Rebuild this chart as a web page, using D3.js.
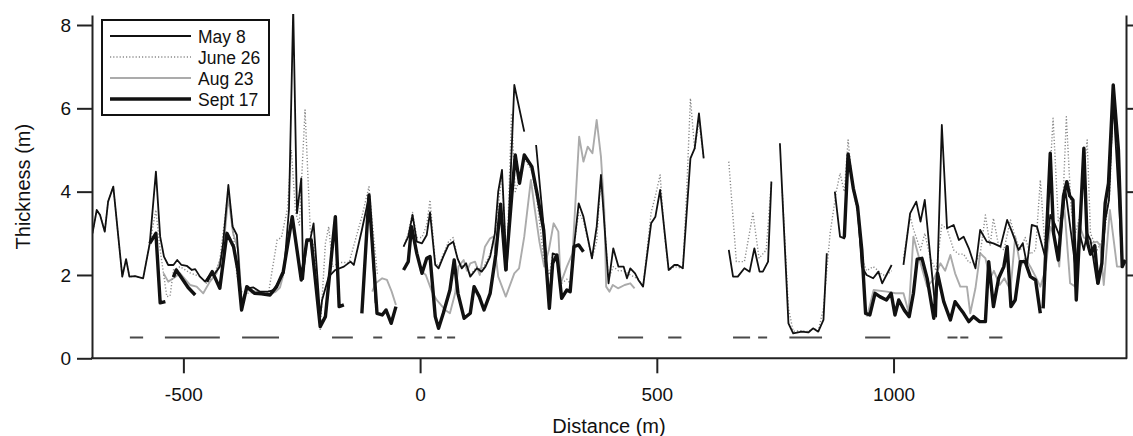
<!DOCTYPE html>
<html>
<head>
<meta charset="utf-8">
<script src="https://cdn.jsdelivr.net/npm/d3@7"></script>
<style>
  body { margin: 0; background: #fff; }
  svg { display: block; font-family: "Liberation Sans", Arial, sans-serif; }
</style>
</head>
<body>
<svg id="chart" width="1133" height="436"></svg>
<script>
// ice thickness along the transect, four surveys (null = gap in the line)
const may8Dist = [-692, -683, -676, -666, -659, -648, -629, -621, -614, -602, -585, -571, -558, -549, -541, -532, -521, -513, -504, -493, -482, -475, -465, -454, -444, -433, -423, -416, -405, -396, -387, -377, -366, -352, -338, -320, -309, -299, -288, -277, -268, -260, -251, -247, -240, -232, -225, -211, -207, -193, -179, -161, -147, -140, -123, -108, -101, -94, null,
  -35, -25, -16, -7, 4, 14, 21, 32, 39, 49, 60, 70, 79, 88, 97, 106, 120, 130, 138, 148, 158, 165, 173, 183, 199, 220, null,
  245, 261, 273, 280, 289, 299, 310, 317, 325, 335, 345, 363, 373, 382, 398, 408, 419, 430, 437, 444, 454, 461, 471, 488, 497, 507, 525, 537, 544, 555, 571, 580, 589, 599, null,
  652, 661, 671, 685, 696, 706, 717, 724, 735, 742, null,
  760, 778, 788, 806, 820, 830, 841, 852, 859, null,
  876, 887, 896, 904, 915, 924, 933, 943, 957, 968, 976, 985, 996, null,
  1021, 1035, 1048, 1057, 1066, 1078, 1090, 1102, 1113, 1127, 1138, 1148, 1159, 1173, 1183, 1197, 1211, 1226, 1240, 1250, 1264, 1273, 1282, 1292, 1303, 1321, 1331, 1340, 1352, 1363, 1375, 1384, 1393, 1402, 1409, 1416, 1430, 1440, 1447, 1455, 1464, 1475, 1483, 1490];
const may8Thick = [3.0, 3.56, 3.44, 3.04, 3.76, 4.12, 1.96, 2.38, 1.96, 1.97, 1.92, 2.76, 4.48, 2.92, 2.44, 2.24, 2.24, 2.36, 2.24, 2.22, 2.12, 2.14, 1.96, 1.84, 2.0, 2.04, 2.2, 2.76, 4.16, 3.16, 2.96, 1.3, 1.68, 1.70, 1.60, 1.60, 1.64, 1.84, 2.04, 3.56, 8.4, 3.48, 4.32, 1.9, 2.8, 2.85, 3.24, 1.0, 1.4, 1.96, 2.12, 2.2, 2.32, 2.24, 3.08, 3.88, 2.76, 1.32, null,
  2.68, 2.92, 3.44, 2.80, 2.76, 2.96, 3.5, 2.24, 2.16, 2.44, 2.72, 2.80, 2.40, 2.16, 2.28, 1.96, 2.16, 2.08, 2.2, 2.44, 3.0, 4.0, 4.52, 2.12, 6.56, 5.44, null,
  5.12, 3.16, 1.2, 2.52, 2.48, 1.44, 1.64, 1.60, 2.68, 3.72, 3.40, 2.40, 3.16, 4.40, 1.80, 2.64, 2.20, 2.20, 1.92, 2.16, 2.04, 1.88, 1.72, 3.24, 3.40, 4.04, 2.12, 2.24, 2.24, 2.16, 4.80, 5.04, 5.88, 4.80, null,
  2.60, 1.96, 1.96, 2.16, 2.08, 2.64, 2.08, 2.08, 2.32, 4.24, null,
  5.16, 0.84, 0.60, 0.64, 0.62, 0.72, 0.64, 0.92, 2.52, null,
  4.0, 2.92, 2.88, 4.92, 4.08, 3.64, 2.20, 2.0, 1.92, 2.08, 1.80, 2.0, 2.24, null,
  2.24, 3.48, 3.76, 3.28, 3.80, 2.4, 1.0, 5.60, 3.12, 3.2, 2.84, 2.92, 2.64, 2.16, 3.08, 2.80, 2.76, 2.68, 3.32, 3.04, 2.60, 2.76, 2.24, 3.20, 3.16, 2.40, 3.44, 3.24, 2.9, 4.04, 3.0, 2.2, 3.0, 2.6, 3.0, 2.84, 1.80, 2.28, 3.3, 3.8, 6.2, 4.0, 2.3, 2.3];

const jun26Dist = [-692, -683, -676, -666, -659, -648, -629, -621, -614, -602, -585, -571, -558, -549, -535, -528, -521, -507, -486, -465, -451, -437, -423, -405, -396, -387, -377, -366, -338, -320, -302, -293, -280, -272, -263, -255, -243, -232, -222, -211, -200, -193, -185, -170, -150, -123, -108, -98, -90, null,
  -35, -25, -16, -7, 4, 14, 21, 32, 39, 49, 60, 70, 79, 88, 97, 106, 120, 130, 148, 158, 173, 183, 193, 201, 210, 220, 236, 247, 261, 273, 280, 289, 299, 310, 317, 325, 335, 345, 363, 373, 382, 398, 408, 419, 430, 444, 461, 471, 488, 497, 507, 516, 525, 537, 555, 563, 571, 580, 589, 599, null,
  652, 668, 685, 703, 716, 731, 742, null,
  765, 778, 788, 806, 820, 830, 841, 852, 866, 879, 887, 896, 904, 915, 924, 933, 943, 957, 968, 976, 985, 996, null,
  1021, 1035, 1042, 1057, 1066, 1078, 1090, 1102, 1113, 1127, 1138, 1148, 1159, 1173, 1183, 1194, 1204, 1211, 1222, 1233, 1247, 1257, 1268, 1278, 1289, 1300, 1310, 1321, 1337, 1348, 1357, 1365, 1375, 1384, 1393, 1409, 1416, 1430, 1444, 1457, 1464, 1475, 1483, 1490];
const jun26Thick = [3.0, 3.56, 3.44, 3.04, 3.76, 4.12, 1.96, 2.38, 1.96, 1.97, 1.92, 2.76, 3.56, 2.6, 1.48, 1.5, 2.12, 2.2, 2.05, 1.96, 1.80, 1.95, 2.36, 4.04, 3.2, 2.0, 1.6, 1.56, 1.6, 1.58, 2.84, 2.9, 3.6, 5.0, 3.5, 3.2, 5.96, 3.08, 2.5, 0.68, 2.76, 3.16, 2.2, 2.3, 2.3, 3.40, 4.12, 2.92, 2.0, null,
  2.68, 3.0, 3.5, 2.9, 2.9, 3.2, 3.80, 2.3, 2.2, 2.5, 2.8, 2.9, 2.4, 2.2, 2.3, 2.0, 2.2, 2.1, 2.5, 3.0, 4.4, 2.2, 5.88, 4.0, 4.3, 4.8, 4.5, 3.8, 2.4, 2.0, 2.5, 2.4, 1.8, 1.9, 1.8, 2.7, 3.5, 3.3, 2.4, 2.8, 4.4, 1.9, 2.2, 2.1, 2.1, 2.0, 1.9, 1.72, 3.5, 3.9, 4.4, 3.0, 2.1, 2.2, 2.16, 4.0, 6.24, 5.0, 5.7, 4.8, null,
  4.72, 2.32, 2.32, 3.48, 2.40, 2.60, 4.24, null,
  4.0, 1.2, 0.65, 0.66, 0.64, 0.72, 0.66, 1.2, 3.0, 4.0, 4.44, 4.0, 5.24, 4.0, 3.5, 2.4, 2.1, 2.2, 2.1, 2.0, 2.0, 2.1, null,
  2.4, 3.4, 3.1, 2.6, 3.0, 2.4, 2.1, 3.2, 3.1, 2.6, 2.5, 2.5, 2.3, 2.3, 2.5, 3.44, 2.7, 3.36, 2.7, 2.6, 3.32, 2.9, 2.6, 2.9, 2.5, 2.6, 4.28, 2.5, 5.76, 3.3, 3.5, 5.80, 3.6, 3.0, 3.4, 5.24, 3.0, 2.6, 2.9, 4.0, 6.3, 4.6, 2.3, 2.3];

const aug23Dist = [-542, -532, -521, -507, -486, -472, -458, -444, -430, -416, -405, -395, -384, -377, -366, -345, -320, -305, -296, -289, null,
  -101, -94, -80, -70, -60, -51, null,
  0, 12, 25, 35, 53, 63, 74, 81, 92, 99, 106, 116, 126, 137, 148, 155, 165, 181, 199, 209, 220, 234, 242, 252, 262, 272, 282, 292, 297, 310, 322, 336, 345, 354, 364, 373, 382, 389, 393, 400, 407, 418, 432, 444, 453, null,
  944, 958, 986, 1004, 1021, 1032, 1042, 1057, 1071, 1085, 1099, 1109, 1120, 1130, 1141, 1155, 1162, 1173, 1183, 1194, 1204, 1212, 1224, 1234, 1247, 1257, 1268, 1278, 1289, 1300, 1310, 1321, 1331, 1340, 1350, 1359, 1373, 1384, 1391, 1402, 1416, 1430, 1437, 1444, 1457, 1472, 1480];
const aug23Thick = [2.04, 1.84, 1.92, 2.04, 1.76, 1.72, 1.56, 1.84, 2.04, 2.60, 3.88, 3.0, 2.6, 1.40, 1.64, 1.60, 1.52, 1.6, 1.7, 2.0, null,
  1.6, 1.80, 1.92, 1.88, 1.6, 1.28, null,
  2.12, 2.0, 1.6, 1.40, 1.16, 1.08, 1.56, 2.20, 2.36, 2.1, 2.28, 2.32, 2.0, 2.68, 2.88, 2.92, 1.96, 1.48, 2.04, 2.16, 2.92, 4.28, 3.6, 2.8, 2.2, 2.6, 3.24, 3.04, 1.80, 2.2, 2.52, 5.32, 4.72, 5.08, 4.92, 5.72, 4.84, 3.56, 1.72, 1.60, 1.76, 1.68, 1.76, 1.80, 1.68, null,
  1.0, 1.64, 1.60, 1.56, 1.56, 1.1, 2.92, 2.28, 1.72, 1.9, 2.28, 2.1, 2.48, 2.04, 1.72, 1.72, 1.08, 1.68, 2.52, 2.40, 1.92, 2.1, 1.76, 1.92, 1.64, 2.92, 2.2, 2.40, 2.2, 1.96, 1.72, 2.12, 3.16, 2.92, 2.2, 3.88, 1.80, 1.72, 3.24, 2.9, 2.76, 2.8, 2.7, 1.76, 3.56, 2.20, 2.20];

const sep17Dist = [-571, -558, -549, -538, null,
  -521, -515, -505, -490, -475, null,
  -451, -439, -423, -408, -394, -385, -377, -366, -350, -335, -317, -303, -289, -270, -251, -239, -230, -211, -200, -179, -171, -161, null,
  -123, -108, -91, -80, -72, -61, -51, null,
  -35, -25, -18, -7, 4, 14, 21, 32, 39, 49, 63, 72, 80, 93, 106, 114, 125, 135, 148, 160, 170, 181, 194, 201, 210, 220, 236, 247, 261, 273, 280, 289, 299, 310, 317, 325, 335, 345, null,
  896, 904, 915, 924, 933, 941, 950, 961, 971, 985, 995, 1003, 1011, 1023, 1033, 1042, 1050, 1060, 1071, 1085, 1093, 1106, 1120, 1130, 1140, 1148, 1159, 1169, 1182, 1194, 1201, 1211, 1222, 1233, 1240, 1248, 1257, 1268, 1278, 1289, 1300, 1310, null,
  1316, 1331, 1338, 1348, 1359, 1366, 1372, 1379, 1386, 1402, 1409, 1416, 1425, 1432, 1440, 1447, 1454, 1464, 1475, 1483, 1490];
const sep17Thick = [2.76, 3.0, 1.33, 1.36, null,
  1.95, 2.12, 1.95, 1.7, 1.52, null,
  1.84, 2.08, 1.68, 3.0, 2.68, 2.12, 1.16, 1.72, 1.56, 1.55, 1.52, 1.72, 2.08, 3.40, 1.88, 2.84, 2.84, 0.76, 1.0, 3.40, 1.24, 1.28, null,
  1.08, 3.92, 1.08, 1.04, 1.16, 0.84, 1.24, null,
  2.12, 2.32, 3.16, 2.52, 2.04, 2.40, 2.44, 1.0, 0.72, 1.08, 1.64, 2.36, 1.56, 0.96, 1.08, 1.72, 1.48, 1.16, 1.56, 2.5, 3.7, 2.12, 3.96, 4.88, 4.20, 4.88, 4.60, 3.96, 3.08, 1.20, 2.28, 2.48, 1.44, 1.64, 1.60, 2.68, 2.72, 2.56, null,
  2.9, 4.9, 4.08, 3.64, 2.6, 1.08, 1.04, 1.56, 1.48, 1.40, 1.56, 1.04, 1.40, 1.15, 1.0, 1.56, 2.38, 2.40, 1.92, 0.96, 2.04, 1.36, 0.92, 1.36, 1.2, 1.08, 0.88, 1.0, 0.88, 0.88, 2.32, 1.24, 1.92, 2.20, 2.68, 1.24, 1.40, 2.32, 2.32, 1.96, 1.88, 1.08, null,
  1.2, 4.92, 3.0, 2.36, 3.9, 4.24, 3.9, 3.8, 1.4, 5.04, 2.8, 2.5, 2.7, 1.8, 2.28, 3.72, 4.2, 6.56, 5.0, 2.2, 2.36];

// stretches marked at 0.5 m along the bottom
const coverStart = [-613, -539, -376, -186, -99, -6, 30, 57, 418, 524, 661, 714, 780, 940, 1114, 1141, 1202];
const coverEnd = [-585, -423, -298, -142, -80, 11, 46, 74, 471, 552, 697, 733, 849, 993, 1135, 1158, 1230];
const coverLevel = 0.5;

const xTicks = [-500, 0, 500, 1000];
const yTicks = [0, 2, 4, 6, 8];
const seriesNames = ['May 8', 'June 26', 'Aug 23', 'Sept 17'];

const svg = d3.select('#chart');
const plotLeft = 92, plotRight = 1126, plotTop = 15, plotBottom = 358.3;

const x = d3.scaleLinear().domain([-693, 1491]).range([plotLeft, plotRight]);
const y = d3.scaleLinear().domain([0, 8.24]).range([plotBottom, plotTop]);

svg.append('defs').append('clipPath').attr('id', 'plotclip')
    .append('rect')
    .attr('x', plotLeft).attr('y', plotTop - 1)
    .attr('width', plotRight - plotLeft).attr('height', plotBottom - plotTop + 1);

function zip(dist, thick) {
    return dist.map((d, i) => [d, thick[i]]);
}

const line = d3.line()
    .defined(d => d[0] != null && d[1] != null)
    .x(d => x(d[0]))
    .y(d => y(d[1]));

const styles = [
    {name: seriesNames[0], stroke: '#111', width: 1.8, dash: null},
    {name: seriesNames[1], stroke: '#8a8a8a', width: 1.4, dash: '1.2,2'},
    {name: seriesNames[2], stroke: '#ababab', width: 1.9, dash: null},
    {name: seriesNames[3], stroke: '#111', width: 3.4, dash: null}
];

const series = [
    {data: zip(aug23Dist, aug23Thick), style: styles[2]},
    {data: zip(jun26Dist, jun26Thick), style: styles[1]},
    {data: zip(may8Dist, may8Thick), style: styles[0]},
    {data: zip(sep17Dist, sep17Thick), style: styles[3]}
];

const plot = svg.append('g').attr('clip-path', 'url(#plotclip)');

// bottom marks
plot.selectAll('line.cover')
    .data(coverStart.map((s, i) => [s, coverEnd[i]]))
    .join('line')
    .attr('class', 'cover')
    .attr('x1', d => x(d[0])).attr('x2', d => x(d[1]))
    .attr('y1', y(coverLevel)).attr('y2', y(coverLevel))
    .attr('stroke', '#4a4a4a')
    .attr('stroke-width', 2);

plot.selectAll('path.series')
    .data(series)
    .join('path')
    .attr('class', 'series')
    .attr('fill', 'none')
    .attr('stroke', d => d.style.stroke)
    .attr('stroke-width', d => d.style.width)
    .attr('stroke-dasharray', d => d.style.dash)
    .attr('stroke-linejoin', 'round')
    .attr('d', d => line(d.data));

// axes
const axisColor = '#222';
const plainNumber = d => String(d);

const xAxis = svg.append('g')
    .attr('transform', `translate(0,${plotBottom})`)
    .call(d3.axisBottom(x).tickValues(xTicks).tickFormat(plainNumber)
        .tickSize(15).tickSizeOuter(0).tickPadding(14));

const yAxis = svg.append('g')
    .attr('transform', `translate(${plotLeft},0)`)
    .call(d3.axisLeft(y).tickValues(yTicks).tickFormat(plainNumber)
        .tickSize(15).tickSizeOuter(0).tickPadding(6));

const yAxisRight = svg.append('g')
    .attr('transform', `translate(${plotRight},0)`)
    .call(d3.axisRight(y).tickValues(yTicks.slice(1)).tickSize(8).tickSizeOuter(0).tickFormat(''));

[xAxis, yAxis, yAxisRight].forEach(g => {
    g.select('.domain').attr('stroke', axisColor).attr('stroke-width', 2);
    g.selectAll('.tick line').attr('stroke', axisColor).attr('stroke-width', 2);
    g.selectAll('.tick text')
        .attr('fill', '#111')
        .style('font-family', '"Liberation Sans", Arial, sans-serif')
        .style('font-size', '19px');
});

// bottom axis line runs the full width
xAxis.select('.domain').attr('d', `M${plotLeft - 1},0H${plotRight + 1}`);

// axis titles
svg.append('text')
    .attr('x', (plotLeft + plotRight) / 2)
    .attr('y', 432.5)
    .attr('text-anchor', 'middle')
    .attr('fill', '#111')
    .style('font-size', '20px')
    .text('Distance (m)');

svg.append('text')
    .attr('transform', `translate(30,${(plotTop + plotBottom) / 2}) rotate(-90)`)
    .attr('text-anchor', 'middle')
    .attr('fill', '#111')
    .style('font-size', '20px')
    .text('Thickness (m)');

// legend
const legend = svg.append('g');
legend.append('rect')
    .attr('x', 102).attr('y', 20)
    .attr('width', 167).attr('height', 95)
    .attr('fill', '#fff')
    .attr('stroke', '#111')
    .attr('stroke-width', 2);

const rowY = [36, 57, 78, 99];
const rows = legend.selectAll('g.row')
    .data(styles)
    .join('g')
    .attr('class', 'row')
    .attr('transform', (d, i) => `translate(0,${rowY[i]})`);

rows.append('line')
    .attr('x1', 110).attr('x2', 191)
    .attr('stroke', d => d.stroke)
    .attr('stroke-width', d => d.width)
    .attr('stroke-dasharray', d => d.dash);

rows.append('text')
    .attr('x', 198)
    .attr('y', 7)
    .attr('fill', '#111')
    .style('font-size', '17.5px')
    .text(d => d.name);
</script>
</body>
</html>
